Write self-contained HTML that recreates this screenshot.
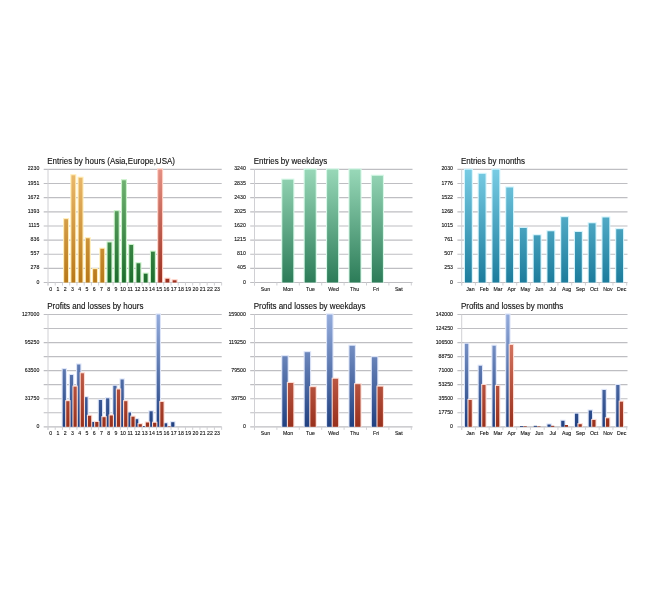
<!DOCTYPE html>
<html><head><meta charset="utf-8"><title>Charts</title>
<style>html,body{margin:0;padding:0;background:#fff;}svg{display:block;}</style></head>
<body>
<svg width="672" height="600" viewBox="0 0 672 600" font-family="Liberation Sans, sans-serif">
<defs>
<linearGradient id="gO" gradientUnits="userSpaceOnUse" x1="0" y1="169.4" x2="0" y2="282.5"><stop offset="0" stop-color="#ecbc70"/><stop offset="1" stop-color="#b87818"/></linearGradient>
<linearGradient id="gG" gradientUnits="userSpaceOnUse" x1="0" y1="169.4" x2="0" y2="282.5"><stop offset="0" stop-color="#78b878"/><stop offset="1" stop-color="#1c6c2c"/></linearGradient>
<linearGradient id="gR" gradientUnits="userSpaceOnUse" x1="0" y1="169.4" x2="0" y2="282.5"><stop offset="0" stop-color="#e49084"/><stop offset="1" stop-color="#9c3020"/></linearGradient>
<linearGradient id="gT" gradientUnits="userSpaceOnUse" x1="0" y1="169.4" x2="0" y2="282.5"><stop offset="0" stop-color="#98d8b8"/><stop offset="1" stop-color="#2c7c58"/></linearGradient>
<linearGradient id="gC" gradientUnits="userSpaceOnUse" x1="0" y1="169.4" x2="0" y2="282.5"><stop offset="0" stop-color="#78cce4"/><stop offset="1" stop-color="#1c7c9c"/></linearGradient>
<linearGradient id="gB" gradientUnits="userSpaceOnUse" x1="0" y1="314.5" x2="0" y2="426.8"><stop offset="0" stop-color="#94acdc"/><stop offset="1" stop-color="#204080"/></linearGradient>
<linearGradient id="gD" gradientUnits="userSpaceOnUse" x1="0" y1="314.5" x2="0" y2="426.8"><stop offset="0" stop-color="#e88c78"/><stop offset="1" stop-color="#98301c"/></linearGradient>
</defs>
<rect width="672" height="600" fill="#fff"/>
<g>
<text transform="translate(47.20,164.00) rotate(0.02) scale(0.955,1)" font-size="8.4" text-anchor="start" fill="#101010" stroke="#101010" stroke-width="0.12">Entries by hours (Asia,Europe,USA)</text>
<line x1="43.70" y1="169.40" x2="221.70" y2="169.40" stroke="#bebec2" stroke-width="1.15"/>
<line x1="43.70" y1="183.54" x2="221.70" y2="183.54" stroke="#bebec2" stroke-width="1.15"/>
<line x1="43.70" y1="197.68" x2="221.70" y2="197.68" stroke="#bebec2" stroke-width="1.15"/>
<line x1="43.70" y1="211.81" x2="221.70" y2="211.81" stroke="#bebec2" stroke-width="1.15"/>
<line x1="43.70" y1="225.95" x2="221.70" y2="225.95" stroke="#bebec2" stroke-width="1.15"/>
<line x1="43.70" y1="240.09" x2="221.70" y2="240.09" stroke="#bebec2" stroke-width="1.15"/>
<line x1="43.70" y1="254.22" x2="221.70" y2="254.22" stroke="#bebec2" stroke-width="1.15"/>
<line x1="43.70" y1="268.36" x2="221.70" y2="268.36" stroke="#bebec2" stroke-width="1.15"/>
<line x1="43.70" y1="282.50" x2="221.70" y2="282.50" stroke="#bebec2" stroke-width="1.15"/>
<line x1="48.00" y1="169.40" x2="48.00" y2="285.50" stroke="#d0d0d4" stroke-width="1"/>
<text transform="translate(39.30,170.45) rotate(0.02) scale(0.84,1)" font-size="6.2" text-anchor="end" fill="#101010" stroke="#101010" stroke-width="0.12">2230</text>
<text transform="translate(39.30,184.59) rotate(0.02) scale(0.84,1)" font-size="6.2" text-anchor="end" fill="#101010" stroke="#101010" stroke-width="0.12">1951</text>
<text transform="translate(39.30,198.73) rotate(0.02) scale(0.84,1)" font-size="6.2" text-anchor="end" fill="#101010" stroke="#101010" stroke-width="0.12">1672</text>
<text transform="translate(39.30,212.86) rotate(0.02) scale(0.84,1)" font-size="6.2" text-anchor="end" fill="#101010" stroke="#101010" stroke-width="0.12">1393</text>
<text transform="translate(39.30,227.00) rotate(0.02) scale(0.84,1)" font-size="6.2" text-anchor="end" fill="#101010" stroke="#101010" stroke-width="0.12">1115</text>
<text transform="translate(39.30,241.14) rotate(0.02) scale(0.84,1)" font-size="6.2" text-anchor="end" fill="#101010" stroke="#101010" stroke-width="0.12">836</text>
<text transform="translate(39.30,255.28) rotate(0.02) scale(0.84,1)" font-size="6.2" text-anchor="end" fill="#101010" stroke="#101010" stroke-width="0.12">557</text>
<text transform="translate(39.30,269.41) rotate(0.02) scale(0.84,1)" font-size="6.2" text-anchor="end" fill="#101010" stroke="#101010" stroke-width="0.12">278</text>
<text transform="translate(39.30,283.55) rotate(0.02) scale(0.84,1)" font-size="6.2" text-anchor="end" fill="#101010" stroke="#101010" stroke-width="0.12">0</text>
<rect x="63.09" y="218.10" width="6.00" height="64.40" fill="#ffecb4"/>
<rect x="64.19" y="219.20" width="3.80" height="63.30" fill="url(#gO)"/>
<rect x="70.32" y="174.20" width="6.00" height="108.30" fill="#ffecb4"/>
<rect x="71.42" y="175.30" width="3.80" height="107.20" fill="url(#gO)"/>
<rect x="77.56" y="176.70" width="6.00" height="105.80" fill="#ffecb4"/>
<rect x="78.66" y="177.80" width="3.80" height="104.70" fill="url(#gO)"/>
<rect x="84.79" y="237.20" width="6.00" height="45.30" fill="#ffecb4"/>
<rect x="85.89" y="238.30" width="3.80" height="44.20" fill="url(#gO)"/>
<rect x="92.03" y="268.10" width="6.00" height="14.40" fill="#ffecb4"/>
<rect x="93.13" y="269.20" width="3.80" height="13.30" fill="url(#gO)"/>
<rect x="99.26" y="247.70" width="6.00" height="34.80" fill="#ffecb4"/>
<rect x="100.36" y="248.80" width="3.80" height="33.70" fill="url(#gO)"/>
<rect x="106.50" y="241.40" width="6.00" height="41.10" fill="#c8f0c8"/>
<rect x="107.60" y="242.50" width="3.80" height="40.00" fill="url(#gG)"/>
<rect x="113.73" y="210.10" width="6.00" height="72.40" fill="#c8f0c8"/>
<rect x="114.83" y="211.20" width="3.80" height="71.30" fill="url(#gG)"/>
<rect x="120.97" y="179.20" width="6.00" height="103.30" fill="#c8f0c8"/>
<rect x="122.07" y="180.30" width="3.80" height="102.20" fill="url(#gG)"/>
<rect x="128.20" y="243.90" width="6.00" height="38.60" fill="#c8f0c8"/>
<rect x="129.30" y="245.00" width="3.80" height="37.50" fill="url(#gG)"/>
<rect x="135.44" y="262.20" width="6.00" height="20.30" fill="#c8f0c8"/>
<rect x="136.54" y="263.30" width="3.80" height="19.20" fill="url(#gG)"/>
<rect x="142.67" y="272.60" width="6.00" height="9.90" fill="#c8f0c8"/>
<rect x="143.77" y="273.70" width="3.80" height="8.80" fill="url(#gG)"/>
<rect x="149.91" y="250.60" width="6.00" height="31.90" fill="#c8f0c8"/>
<rect x="151.01" y="251.70" width="3.80" height="30.80" fill="url(#gG)"/>
<rect x="157.14" y="168.30" width="6.00" height="114.20" fill="#ffd0c4"/>
<rect x="158.24" y="169.40" width="3.80" height="113.10" fill="url(#gR)"/>
<rect x="164.38" y="277.70" width="6.00" height="4.80" fill="#ffd0c4"/>
<rect x="165.48" y="278.80" width="3.80" height="3.70" fill="url(#gR)"/>
<rect x="171.61" y="279.20" width="6.00" height="3.30" fill="#ffd0c4"/>
<rect x="172.71" y="280.30" width="3.80" height="2.20" fill="url(#gR)"/>
<line x1="48.00" y1="282.50" x2="48.00" y2="285.50" stroke="#d0d0d4" stroke-width="1"/>
<line x1="55.23" y1="282.50" x2="55.23" y2="285.50" stroke="#d0d0d4" stroke-width="1"/>
<line x1="62.47" y1="282.50" x2="62.47" y2="285.50" stroke="#d0d0d4" stroke-width="1"/>
<line x1="69.70" y1="282.50" x2="69.70" y2="285.50" stroke="#d0d0d4" stroke-width="1"/>
<line x1="76.94" y1="282.50" x2="76.94" y2="285.50" stroke="#d0d0d4" stroke-width="1"/>
<line x1="84.18" y1="282.50" x2="84.18" y2="285.50" stroke="#d0d0d4" stroke-width="1"/>
<line x1="91.41" y1="282.50" x2="91.41" y2="285.50" stroke="#d0d0d4" stroke-width="1"/>
<line x1="98.65" y1="282.50" x2="98.65" y2="285.50" stroke="#d0d0d4" stroke-width="1"/>
<line x1="105.88" y1="282.50" x2="105.88" y2="285.50" stroke="#d0d0d4" stroke-width="1"/>
<line x1="113.12" y1="282.50" x2="113.12" y2="285.50" stroke="#d0d0d4" stroke-width="1"/>
<line x1="120.35" y1="282.50" x2="120.35" y2="285.50" stroke="#d0d0d4" stroke-width="1"/>
<line x1="127.59" y1="282.50" x2="127.59" y2="285.50" stroke="#d0d0d4" stroke-width="1"/>
<line x1="134.82" y1="282.50" x2="134.82" y2="285.50" stroke="#d0d0d4" stroke-width="1"/>
<line x1="142.06" y1="282.50" x2="142.06" y2="285.50" stroke="#d0d0d4" stroke-width="1"/>
<line x1="149.29" y1="282.50" x2="149.29" y2="285.50" stroke="#d0d0d4" stroke-width="1"/>
<line x1="156.53" y1="282.50" x2="156.53" y2="285.50" stroke="#d0d0d4" stroke-width="1"/>
<line x1="163.76" y1="282.50" x2="163.76" y2="285.50" stroke="#d0d0d4" stroke-width="1"/>
<line x1="171.00" y1="282.50" x2="171.00" y2="285.50" stroke="#d0d0d4" stroke-width="1"/>
<line x1="178.23" y1="282.50" x2="178.23" y2="285.50" stroke="#d0d0d4" stroke-width="1"/>
<line x1="185.47" y1="282.50" x2="185.47" y2="285.50" stroke="#d0d0d4" stroke-width="1"/>
<line x1="192.70" y1="282.50" x2="192.70" y2="285.50" stroke="#d0d0d4" stroke-width="1"/>
<line x1="199.94" y1="282.50" x2="199.94" y2="285.50" stroke="#d0d0d4" stroke-width="1"/>
<line x1="207.17" y1="282.50" x2="207.17" y2="285.50" stroke="#d0d0d4" stroke-width="1"/>
<line x1="214.41" y1="282.50" x2="214.41" y2="285.50" stroke="#d0d0d4" stroke-width="1"/>
<line x1="221.64" y1="282.50" x2="221.64" y2="285.50" stroke="#d0d0d4" stroke-width="1"/>
<text transform="translate(50.72,290.80) rotate(0.02) scale(0.84,1)" font-size="6.2" text-anchor="middle" fill="#101010" stroke="#101010" stroke-width="0.12">0</text>
<text transform="translate(57.95,290.80) rotate(0.02) scale(0.84,1)" font-size="6.2" text-anchor="middle" fill="#101010" stroke="#101010" stroke-width="0.12">1</text>
<text transform="translate(65.19,290.80) rotate(0.02) scale(0.84,1)" font-size="6.2" text-anchor="middle" fill="#101010" stroke="#101010" stroke-width="0.12">2</text>
<text transform="translate(72.42,290.80) rotate(0.02) scale(0.84,1)" font-size="6.2" text-anchor="middle" fill="#101010" stroke="#101010" stroke-width="0.12">3</text>
<text transform="translate(79.66,290.80) rotate(0.02) scale(0.84,1)" font-size="6.2" text-anchor="middle" fill="#101010" stroke="#101010" stroke-width="0.12">4</text>
<text transform="translate(86.89,290.80) rotate(0.02) scale(0.84,1)" font-size="6.2" text-anchor="middle" fill="#101010" stroke="#101010" stroke-width="0.12">5</text>
<text transform="translate(94.13,290.80) rotate(0.02) scale(0.84,1)" font-size="6.2" text-anchor="middle" fill="#101010" stroke="#101010" stroke-width="0.12">6</text>
<text transform="translate(101.36,290.80) rotate(0.02) scale(0.84,1)" font-size="6.2" text-anchor="middle" fill="#101010" stroke="#101010" stroke-width="0.12">7</text>
<text transform="translate(108.60,290.80) rotate(0.02) scale(0.84,1)" font-size="6.2" text-anchor="middle" fill="#101010" stroke="#101010" stroke-width="0.12">8</text>
<text transform="translate(115.83,290.80) rotate(0.02) scale(0.84,1)" font-size="6.2" text-anchor="middle" fill="#101010" stroke="#101010" stroke-width="0.12">9</text>
<text transform="translate(123.07,290.80) rotate(0.02) scale(0.84,1)" font-size="6.2" text-anchor="middle" fill="#101010" stroke="#101010" stroke-width="0.12">10</text>
<text transform="translate(130.30,290.80) rotate(0.02) scale(0.84,1)" font-size="6.2" text-anchor="middle" fill="#101010" stroke="#101010" stroke-width="0.12">11</text>
<text transform="translate(137.54,290.80) rotate(0.02) scale(0.84,1)" font-size="6.2" text-anchor="middle" fill="#101010" stroke="#101010" stroke-width="0.12">12</text>
<text transform="translate(144.77,290.80) rotate(0.02) scale(0.84,1)" font-size="6.2" text-anchor="middle" fill="#101010" stroke="#101010" stroke-width="0.12">13</text>
<text transform="translate(152.01,290.80) rotate(0.02) scale(0.84,1)" font-size="6.2" text-anchor="middle" fill="#101010" stroke="#101010" stroke-width="0.12">14</text>
<text transform="translate(159.24,290.80) rotate(0.02) scale(0.84,1)" font-size="6.2" text-anchor="middle" fill="#101010" stroke="#101010" stroke-width="0.12">15</text>
<text transform="translate(166.48,290.80) rotate(0.02) scale(0.84,1)" font-size="6.2" text-anchor="middle" fill="#101010" stroke="#101010" stroke-width="0.12">16</text>
<text transform="translate(173.71,290.80) rotate(0.02) scale(0.84,1)" font-size="6.2" text-anchor="middle" fill="#101010" stroke="#101010" stroke-width="0.12">17</text>
<text transform="translate(180.95,290.80) rotate(0.02) scale(0.84,1)" font-size="6.2" text-anchor="middle" fill="#101010" stroke="#101010" stroke-width="0.12">18</text>
<text transform="translate(188.18,290.80) rotate(0.02) scale(0.84,1)" font-size="6.2" text-anchor="middle" fill="#101010" stroke="#101010" stroke-width="0.12">19</text>
<text transform="translate(195.42,290.80) rotate(0.02) scale(0.84,1)" font-size="6.2" text-anchor="middle" fill="#101010" stroke="#101010" stroke-width="0.12">20</text>
<text transform="translate(202.65,290.80) rotate(0.02) scale(0.84,1)" font-size="6.2" text-anchor="middle" fill="#101010" stroke="#101010" stroke-width="0.12">21</text>
<text transform="translate(209.89,290.80) rotate(0.02) scale(0.84,1)" font-size="6.2" text-anchor="middle" fill="#101010" stroke="#101010" stroke-width="0.12">22</text>
<text transform="translate(217.12,290.80) rotate(0.02) scale(0.84,1)" font-size="6.2" text-anchor="middle" fill="#101010" stroke="#101010" stroke-width="0.12">23</text>
<text transform="translate(253.70,164.00) rotate(0.02) scale(0.955,1)" font-size="8.4" text-anchor="start" fill="#101010" stroke="#101010" stroke-width="0.12">Entries by weekdays</text>
<line x1="250.20" y1="169.40" x2="412.50" y2="169.40" stroke="#bebec2" stroke-width="1.15"/>
<line x1="250.20" y1="183.54" x2="412.50" y2="183.54" stroke="#bebec2" stroke-width="1.15"/>
<line x1="250.20" y1="197.68" x2="412.50" y2="197.68" stroke="#bebec2" stroke-width="1.15"/>
<line x1="250.20" y1="211.81" x2="412.50" y2="211.81" stroke="#bebec2" stroke-width="1.15"/>
<line x1="250.20" y1="225.95" x2="412.50" y2="225.95" stroke="#bebec2" stroke-width="1.15"/>
<line x1="250.20" y1="240.09" x2="412.50" y2="240.09" stroke="#bebec2" stroke-width="1.15"/>
<line x1="250.20" y1="254.22" x2="412.50" y2="254.22" stroke="#bebec2" stroke-width="1.15"/>
<line x1="250.20" y1="268.36" x2="412.50" y2="268.36" stroke="#bebec2" stroke-width="1.15"/>
<line x1="250.20" y1="282.50" x2="412.50" y2="282.50" stroke="#bebec2" stroke-width="1.15"/>
<line x1="254.50" y1="169.40" x2="254.50" y2="285.50" stroke="#d0d0d4" stroke-width="1"/>
<text transform="translate(245.80,170.45) rotate(0.02) scale(0.84,1)" font-size="6.2" text-anchor="end" fill="#101010" stroke="#101010" stroke-width="0.12">3240</text>
<text transform="translate(245.80,184.59) rotate(0.02) scale(0.84,1)" font-size="6.2" text-anchor="end" fill="#101010" stroke="#101010" stroke-width="0.12">2835</text>
<text transform="translate(245.80,198.73) rotate(0.02) scale(0.84,1)" font-size="6.2" text-anchor="end" fill="#101010" stroke="#101010" stroke-width="0.12">2430</text>
<text transform="translate(245.80,212.86) rotate(0.02) scale(0.84,1)" font-size="6.2" text-anchor="end" fill="#101010" stroke="#101010" stroke-width="0.12">2025</text>
<text transform="translate(245.80,227.00) rotate(0.02) scale(0.84,1)" font-size="6.2" text-anchor="end" fill="#101010" stroke="#101010" stroke-width="0.12">1620</text>
<text transform="translate(245.80,241.14) rotate(0.02) scale(0.84,1)" font-size="6.2" text-anchor="end" fill="#101010" stroke="#101010" stroke-width="0.12">1215</text>
<text transform="translate(245.80,255.28) rotate(0.02) scale(0.84,1)" font-size="6.2" text-anchor="end" fill="#101010" stroke="#101010" stroke-width="0.12">810</text>
<text transform="translate(245.80,269.41) rotate(0.02) scale(0.84,1)" font-size="6.2" text-anchor="end" fill="#101010" stroke="#101010" stroke-width="0.12">405</text>
<text transform="translate(245.80,283.55) rotate(0.02) scale(0.84,1)" font-size="6.2" text-anchor="end" fill="#101010" stroke="#101010" stroke-width="0.12">0</text>
<rect x="281.20" y="178.60" width="13.20" height="103.90" fill="#d8f8e8"/>
<rect x="282.30" y="179.70" width="11.00" height="102.80" fill="url(#gT)"/>
<rect x="303.60" y="168.30" width="13.20" height="114.20" fill="#d8f8e8"/>
<rect x="304.70" y="169.40" width="11.00" height="113.10" fill="url(#gT)"/>
<rect x="326.00" y="168.30" width="13.20" height="114.20" fill="#d8f8e8"/>
<rect x="327.10" y="169.40" width="11.00" height="113.10" fill="url(#gT)"/>
<rect x="348.40" y="168.30" width="13.20" height="114.20" fill="#d8f8e8"/>
<rect x="349.50" y="169.40" width="11.00" height="113.10" fill="url(#gT)"/>
<rect x="370.80" y="174.70" width="13.20" height="107.80" fill="#d8f8e8"/>
<rect x="371.90" y="175.80" width="11.00" height="106.70" fill="url(#gT)"/>
<line x1="254.50" y1="282.50" x2="254.50" y2="285.50" stroke="#d0d0d4" stroke-width="1"/>
<line x1="276.90" y1="282.50" x2="276.90" y2="285.50" stroke="#d0d0d4" stroke-width="1"/>
<line x1="299.30" y1="282.50" x2="299.30" y2="285.50" stroke="#d0d0d4" stroke-width="1"/>
<line x1="321.70" y1="282.50" x2="321.70" y2="285.50" stroke="#d0d0d4" stroke-width="1"/>
<line x1="344.10" y1="282.50" x2="344.10" y2="285.50" stroke="#d0d0d4" stroke-width="1"/>
<line x1="366.50" y1="282.50" x2="366.50" y2="285.50" stroke="#d0d0d4" stroke-width="1"/>
<line x1="388.90" y1="282.50" x2="388.90" y2="285.50" stroke="#d0d0d4" stroke-width="1"/>
<line x1="411.30" y1="282.50" x2="411.30" y2="285.50" stroke="#d0d0d4" stroke-width="1"/>
<text transform="translate(265.40,290.80) rotate(0.02) scale(0.84,1)" font-size="6.2" text-anchor="middle" fill="#101010" stroke="#101010" stroke-width="0.12">Sun</text>
<text transform="translate(288.00,290.80) rotate(0.02) scale(0.84,1)" font-size="6.2" text-anchor="middle" fill="#101010" stroke="#101010" stroke-width="0.12">Mon</text>
<text transform="translate(310.40,290.80) rotate(0.02) scale(0.84,1)" font-size="6.2" text-anchor="middle" fill="#101010" stroke="#101010" stroke-width="0.12">Tue</text>
<text transform="translate(333.50,290.80) rotate(0.02) scale(0.84,1)" font-size="6.2" text-anchor="middle" fill="#101010" stroke="#101010" stroke-width="0.12">Wed</text>
<text transform="translate(354.60,290.80) rotate(0.02) scale(0.84,1)" font-size="6.2" text-anchor="middle" fill="#101010" stroke="#101010" stroke-width="0.12">Thu</text>
<text transform="translate(376.10,290.80) rotate(0.02) scale(0.84,1)" font-size="6.2" text-anchor="middle" fill="#101010" stroke="#101010" stroke-width="0.12">Fri</text>
<text transform="translate(398.80,290.80) rotate(0.02) scale(0.84,1)" font-size="6.2" text-anchor="middle" fill="#101010" stroke="#101010" stroke-width="0.12">Sat</text>
<text transform="translate(460.90,164.00) rotate(0.02) scale(0.955,1)" font-size="8.4" text-anchor="start" fill="#101010" stroke="#101010" stroke-width="0.12">Entries by months</text>
<line x1="457.40" y1="169.40" x2="627.50" y2="169.40" stroke="#bebec2" stroke-width="1.15"/>
<line x1="457.40" y1="183.54" x2="627.50" y2="183.54" stroke="#bebec2" stroke-width="1.15"/>
<line x1="457.40" y1="197.68" x2="627.50" y2="197.68" stroke="#bebec2" stroke-width="1.15"/>
<line x1="457.40" y1="211.81" x2="627.50" y2="211.81" stroke="#bebec2" stroke-width="1.15"/>
<line x1="457.40" y1="225.95" x2="627.50" y2="225.95" stroke="#bebec2" stroke-width="1.15"/>
<line x1="457.40" y1="240.09" x2="627.50" y2="240.09" stroke="#bebec2" stroke-width="1.15"/>
<line x1="457.40" y1="254.22" x2="627.50" y2="254.22" stroke="#bebec2" stroke-width="1.15"/>
<line x1="457.40" y1="268.36" x2="627.50" y2="268.36" stroke="#bebec2" stroke-width="1.15"/>
<line x1="457.40" y1="282.50" x2="627.50" y2="282.50" stroke="#bebec2" stroke-width="1.15"/>
<line x1="461.70" y1="169.40" x2="461.70" y2="285.50" stroke="#d0d0d4" stroke-width="1"/>
<text transform="translate(453.00,170.45) rotate(0.02) scale(0.84,1)" font-size="6.2" text-anchor="end" fill="#101010" stroke="#101010" stroke-width="0.12">2030</text>
<text transform="translate(453.00,184.59) rotate(0.02) scale(0.84,1)" font-size="6.2" text-anchor="end" fill="#101010" stroke="#101010" stroke-width="0.12">1776</text>
<text transform="translate(453.00,198.73) rotate(0.02) scale(0.84,1)" font-size="6.2" text-anchor="end" fill="#101010" stroke="#101010" stroke-width="0.12">1522</text>
<text transform="translate(453.00,212.86) rotate(0.02) scale(0.84,1)" font-size="6.2" text-anchor="end" fill="#101010" stroke="#101010" stroke-width="0.12">1268</text>
<text transform="translate(453.00,227.00) rotate(0.02) scale(0.84,1)" font-size="6.2" text-anchor="end" fill="#101010" stroke="#101010" stroke-width="0.12">1015</text>
<text transform="translate(453.00,241.14) rotate(0.02) scale(0.84,1)" font-size="6.2" text-anchor="end" fill="#101010" stroke="#101010" stroke-width="0.12">761</text>
<text transform="translate(453.00,255.28) rotate(0.02) scale(0.84,1)" font-size="6.2" text-anchor="end" fill="#101010" stroke="#101010" stroke-width="0.12">507</text>
<text transform="translate(453.00,269.41) rotate(0.02) scale(0.84,1)" font-size="6.2" text-anchor="end" fill="#101010" stroke="#101010" stroke-width="0.12">253</text>
<text transform="translate(453.00,283.55) rotate(0.02) scale(0.84,1)" font-size="6.2" text-anchor="end" fill="#101010" stroke="#101010" stroke-width="0.12">0</text>
<rect x="463.88" y="168.50" width="9.00" height="114.00" fill="#d4f4fc"/>
<rect x="464.98" y="169.60" width="6.80" height="112.90" fill="url(#gC)"/>
<rect x="477.62" y="172.80" width="9.00" height="109.70" fill="#d4f4fc"/>
<rect x="478.73" y="173.90" width="6.80" height="108.60" fill="url(#gC)"/>
<rect x="491.38" y="168.50" width="9.00" height="114.00" fill="#d4f4fc"/>
<rect x="492.48" y="169.60" width="6.80" height="112.90" fill="url(#gC)"/>
<rect x="505.12" y="186.40" width="9.00" height="96.10" fill="#d4f4fc"/>
<rect x="506.23" y="187.50" width="6.80" height="95.00" fill="url(#gC)"/>
<rect x="518.88" y="226.90" width="9.00" height="55.60" fill="#d4f4fc"/>
<rect x="519.98" y="228.00" width="6.80" height="54.50" fill="url(#gC)"/>
<rect x="532.62" y="234.20" width="9.00" height="48.30" fill="#d4f4fc"/>
<rect x="533.73" y="235.30" width="6.80" height="47.20" fill="url(#gC)"/>
<rect x="546.38" y="230.20" width="9.00" height="52.30" fill="#d4f4fc"/>
<rect x="547.48" y="231.30" width="6.80" height="51.20" fill="url(#gC)"/>
<rect x="560.12" y="216.10" width="9.00" height="66.40" fill="#d4f4fc"/>
<rect x="561.23" y="217.20" width="6.80" height="65.30" fill="url(#gC)"/>
<rect x="573.88" y="230.90" width="9.00" height="51.60" fill="#d4f4fc"/>
<rect x="574.98" y="232.00" width="6.80" height="50.50" fill="url(#gC)"/>
<rect x="587.62" y="222.20" width="9.00" height="60.30" fill="#d4f4fc"/>
<rect x="588.73" y="223.30" width="6.80" height="59.20" fill="url(#gC)"/>
<rect x="601.38" y="216.40" width="9.00" height="66.10" fill="#d4f4fc"/>
<rect x="602.48" y="217.50" width="6.80" height="65.00" fill="url(#gC)"/>
<rect x="615.12" y="228.10" width="9.00" height="54.40" fill="#d4f4fc"/>
<rect x="616.23" y="229.20" width="6.80" height="53.30" fill="url(#gC)"/>
<line x1="461.70" y1="282.50" x2="461.70" y2="285.50" stroke="#d0d0d4" stroke-width="1"/>
<line x1="475.45" y1="282.50" x2="475.45" y2="285.50" stroke="#d0d0d4" stroke-width="1"/>
<line x1="489.20" y1="282.50" x2="489.20" y2="285.50" stroke="#d0d0d4" stroke-width="1"/>
<line x1="502.95" y1="282.50" x2="502.95" y2="285.50" stroke="#d0d0d4" stroke-width="1"/>
<line x1="516.70" y1="282.50" x2="516.70" y2="285.50" stroke="#d0d0d4" stroke-width="1"/>
<line x1="530.45" y1="282.50" x2="530.45" y2="285.50" stroke="#d0d0d4" stroke-width="1"/>
<line x1="544.20" y1="282.50" x2="544.20" y2="285.50" stroke="#d0d0d4" stroke-width="1"/>
<line x1="557.95" y1="282.50" x2="557.95" y2="285.50" stroke="#d0d0d4" stroke-width="1"/>
<line x1="571.70" y1="282.50" x2="571.70" y2="285.50" stroke="#d0d0d4" stroke-width="1"/>
<line x1="585.45" y1="282.50" x2="585.45" y2="285.50" stroke="#d0d0d4" stroke-width="1"/>
<line x1="599.20" y1="282.50" x2="599.20" y2="285.50" stroke="#d0d0d4" stroke-width="1"/>
<line x1="612.95" y1="282.50" x2="612.95" y2="285.50" stroke="#d0d0d4" stroke-width="1"/>
<line x1="626.70" y1="282.50" x2="626.70" y2="285.50" stroke="#d0d0d4" stroke-width="1"/>
<text transform="translate(470.38,290.80) rotate(0.02) scale(0.84,1)" font-size="6.2" text-anchor="middle" fill="#101010" stroke="#101010" stroke-width="0.12">Jan</text>
<text transform="translate(484.12,290.80) rotate(0.02) scale(0.84,1)" font-size="6.2" text-anchor="middle" fill="#101010" stroke="#101010" stroke-width="0.12">Feb</text>
<text transform="translate(497.88,290.80) rotate(0.02) scale(0.84,1)" font-size="6.2" text-anchor="middle" fill="#101010" stroke="#101010" stroke-width="0.12">Mar</text>
<text transform="translate(511.62,290.80) rotate(0.02) scale(0.84,1)" font-size="6.2" text-anchor="middle" fill="#101010" stroke="#101010" stroke-width="0.12">Apr</text>
<text transform="translate(525.38,290.80) rotate(0.02) scale(0.84,1)" font-size="6.2" text-anchor="middle" fill="#101010" stroke="#101010" stroke-width="0.12">May</text>
<text transform="translate(539.12,290.80) rotate(0.02) scale(0.84,1)" font-size="6.2" text-anchor="middle" fill="#101010" stroke="#101010" stroke-width="0.12">Jun</text>
<text transform="translate(552.88,290.80) rotate(0.02) scale(0.84,1)" font-size="6.2" text-anchor="middle" fill="#101010" stroke="#101010" stroke-width="0.12">Jul</text>
<text transform="translate(566.62,290.80) rotate(0.02) scale(0.84,1)" font-size="6.2" text-anchor="middle" fill="#101010" stroke="#101010" stroke-width="0.12">Aug</text>
<text transform="translate(580.38,290.80) rotate(0.02) scale(0.84,1)" font-size="6.2" text-anchor="middle" fill="#101010" stroke="#101010" stroke-width="0.12">Sep</text>
<text transform="translate(594.12,290.80) rotate(0.02) scale(0.84,1)" font-size="6.2" text-anchor="middle" fill="#101010" stroke="#101010" stroke-width="0.12">Oct</text>
<text transform="translate(607.88,290.80) rotate(0.02) scale(0.84,1)" font-size="6.2" text-anchor="middle" fill="#101010" stroke="#101010" stroke-width="0.12">Nov</text>
<text transform="translate(621.62,290.80) rotate(0.02) scale(0.84,1)" font-size="6.2" text-anchor="middle" fill="#101010" stroke="#101010" stroke-width="0.12">Dec</text>
<text transform="translate(47.20,309.10) rotate(0.02) scale(0.955,1)" font-size="8.4" text-anchor="start" fill="#101010" stroke="#101010" stroke-width="0.12">Profits and losses by hours</text>
<line x1="43.70" y1="314.50" x2="221.70" y2="314.50" stroke="#bebec2" stroke-width="1.15"/>
<line x1="43.70" y1="328.54" x2="221.70" y2="328.54" stroke="#bebec2" stroke-width="1.15"/>
<line x1="43.70" y1="342.57" x2="221.70" y2="342.57" stroke="#bebec2" stroke-width="1.15"/>
<line x1="43.70" y1="356.61" x2="221.70" y2="356.61" stroke="#bebec2" stroke-width="1.15"/>
<line x1="43.70" y1="370.65" x2="221.70" y2="370.65" stroke="#bebec2" stroke-width="1.15"/>
<line x1="43.70" y1="384.69" x2="221.70" y2="384.69" stroke="#bebec2" stroke-width="1.15"/>
<line x1="43.70" y1="398.73" x2="221.70" y2="398.73" stroke="#bebec2" stroke-width="1.15"/>
<line x1="43.70" y1="412.76" x2="221.70" y2="412.76" stroke="#bebec2" stroke-width="1.15"/>
<line x1="43.70" y1="426.80" x2="221.70" y2="426.80" stroke="#bebec2" stroke-width="1.15"/>
<line x1="48.00" y1="314.50" x2="48.00" y2="429.80" stroke="#d0d0d4" stroke-width="1"/>
<text transform="translate(39.30,315.55) rotate(0.02) scale(0.84,1)" font-size="6.2" text-anchor="end" fill="#101010" stroke="#101010" stroke-width="0.12">127000</text>
<text transform="translate(39.30,343.62) rotate(0.02) scale(0.84,1)" font-size="6.2" text-anchor="end" fill="#101010" stroke="#101010" stroke-width="0.12">95250</text>
<text transform="translate(39.30,371.70) rotate(0.02) scale(0.84,1)" font-size="6.2" text-anchor="end" fill="#101010" stroke="#101010" stroke-width="0.12">63500</text>
<text transform="translate(39.30,399.78) rotate(0.02) scale(0.84,1)" font-size="6.2" text-anchor="end" fill="#101010" stroke="#101010" stroke-width="0.12">31750</text>
<text transform="translate(39.30,427.85) rotate(0.02) scale(0.84,1)" font-size="6.2" text-anchor="end" fill="#101010" stroke="#101010" stroke-width="0.12">0</text>
<rect x="61.57" y="368.10" width="5.40" height="58.70" fill="#dce4f8"/>
<rect x="62.67" y="369.20" width="3.20" height="57.60" fill="url(#gB)"/>
<rect x="68.81" y="373.90" width="5.40" height="52.90" fill="#dce4f8"/>
<rect x="69.91" y="375.00" width="3.20" height="51.80" fill="url(#gB)"/>
<rect x="76.04" y="363.40" width="5.40" height="63.40" fill="#dce4f8"/>
<rect x="77.14" y="364.50" width="3.20" height="62.30" fill="url(#gB)"/>
<rect x="83.28" y="396.10" width="5.40" height="30.70" fill="#dce4f8"/>
<rect x="84.38" y="397.20" width="3.20" height="29.60" fill="url(#gB)"/>
<rect x="90.51" y="420.90" width="5.40" height="5.90" fill="#dce4f8"/>
<rect x="91.61" y="422.00" width="3.20" height="4.80" fill="url(#gB)"/>
<rect x="97.75" y="398.90" width="5.40" height="27.90" fill="#dce4f8"/>
<rect x="98.85" y="400.00" width="3.20" height="26.80" fill="url(#gB)"/>
<rect x="104.98" y="397.20" width="5.40" height="29.60" fill="#dce4f8"/>
<rect x="106.08" y="398.30" width="3.20" height="28.50" fill="url(#gB)"/>
<rect x="112.22" y="384.70" width="5.40" height="42.10" fill="#dce4f8"/>
<rect x="113.32" y="385.80" width="3.20" height="41.00" fill="url(#gB)"/>
<rect x="119.45" y="378.40" width="5.40" height="48.40" fill="#dce4f8"/>
<rect x="120.55" y="379.50" width="3.20" height="47.30" fill="url(#gB)"/>
<rect x="126.69" y="411.40" width="5.40" height="15.40" fill="#dce4f8"/>
<rect x="127.79" y="412.50" width="3.20" height="14.30" fill="url(#gB)"/>
<rect x="133.92" y="418.10" width="5.40" height="8.70" fill="#dce4f8"/>
<rect x="135.02" y="419.20" width="3.20" height="7.60" fill="url(#gB)"/>
<rect x="142.25" y="426.00" width="3.20" height="0.80" fill="url(#gB)"/>
<rect x="148.39" y="410.20" width="5.40" height="16.60" fill="#dce4f8"/>
<rect x="149.49" y="411.30" width="3.20" height="15.50" fill="url(#gB)"/>
<rect x="155.62" y="313.40" width="5.40" height="113.40" fill="#dce4f8"/>
<rect x="156.72" y="314.50" width="3.20" height="112.30" fill="url(#gB)"/>
<rect x="162.86" y="422.20" width="5.40" height="4.60" fill="#dce4f8"/>
<rect x="163.96" y="423.30" width="3.20" height="3.50" fill="url(#gB)"/>
<rect x="170.09" y="421.10" width="5.40" height="5.70" fill="#dce4f8"/>
<rect x="171.19" y="422.20" width="3.20" height="4.60" fill="url(#gB)"/>
<rect x="65.17" y="400.10" width="5.40" height="26.70" fill="#fcdcd4"/>
<rect x="66.27" y="401.20" width="3.20" height="25.60" fill="url(#gD)"/>
<rect x="72.41" y="385.60" width="5.40" height="41.20" fill="#fcdcd4"/>
<rect x="73.50" y="386.70" width="3.20" height="40.10" fill="url(#gD)"/>
<rect x="79.64" y="372.20" width="5.40" height="54.60" fill="#fcdcd4"/>
<rect x="80.74" y="373.30" width="3.20" height="53.50" fill="url(#gD)"/>
<rect x="86.88" y="414.70" width="5.40" height="12.10" fill="#fcdcd4"/>
<rect x="87.98" y="415.80" width="3.20" height="11.00" fill="url(#gD)"/>
<rect x="94.11" y="420.90" width="5.40" height="5.90" fill="#fcdcd4"/>
<rect x="95.21" y="422.00" width="3.20" height="4.80" fill="url(#gD)"/>
<rect x="101.35" y="416.10" width="5.40" height="10.70" fill="#fcdcd4"/>
<rect x="102.45" y="417.20" width="3.20" height="9.60" fill="url(#gD)"/>
<rect x="108.58" y="414.40" width="5.40" height="12.40" fill="#fcdcd4"/>
<rect x="109.68" y="415.50" width="3.20" height="11.30" fill="url(#gD)"/>
<rect x="115.82" y="388.40" width="5.40" height="38.40" fill="#fcdcd4"/>
<rect x="116.92" y="389.50" width="3.20" height="37.30" fill="url(#gD)"/>
<rect x="123.05" y="400.10" width="5.40" height="26.70" fill="#fcdcd4"/>
<rect x="124.15" y="401.20" width="3.20" height="25.60" fill="url(#gD)"/>
<rect x="130.29" y="415.60" width="5.40" height="11.20" fill="#fcdcd4"/>
<rect x="131.39" y="416.70" width="3.20" height="10.10" fill="url(#gD)"/>
<rect x="137.52" y="423.10" width="5.40" height="3.70" fill="#fcdcd4"/>
<rect x="138.62" y="424.20" width="3.20" height="2.60" fill="url(#gD)"/>
<rect x="144.76" y="421.40" width="5.40" height="5.40" fill="#fcdcd4"/>
<rect x="145.86" y="422.50" width="3.20" height="4.30" fill="url(#gD)"/>
<rect x="151.99" y="421.70" width="5.40" height="5.10" fill="#fcdcd4"/>
<rect x="153.09" y="422.80" width="3.20" height="4.00" fill="url(#gD)"/>
<rect x="159.23" y="400.90" width="5.40" height="25.90" fill="#fcdcd4"/>
<rect x="160.33" y="402.00" width="3.20" height="24.80" fill="url(#gD)"/>
<rect x="167.56" y="426.30" width="3.20" height="0.50" fill="url(#gD)"/>
<line x1="48.00" y1="426.80" x2="48.00" y2="429.80" stroke="#d0d0d4" stroke-width="1"/>
<line x1="55.23" y1="426.80" x2="55.23" y2="429.80" stroke="#d0d0d4" stroke-width="1"/>
<line x1="62.47" y1="426.80" x2="62.47" y2="429.80" stroke="#d0d0d4" stroke-width="1"/>
<line x1="69.70" y1="426.80" x2="69.70" y2="429.80" stroke="#d0d0d4" stroke-width="1"/>
<line x1="76.94" y1="426.80" x2="76.94" y2="429.80" stroke="#d0d0d4" stroke-width="1"/>
<line x1="84.18" y1="426.80" x2="84.18" y2="429.80" stroke="#d0d0d4" stroke-width="1"/>
<line x1="91.41" y1="426.80" x2="91.41" y2="429.80" stroke="#d0d0d4" stroke-width="1"/>
<line x1="98.65" y1="426.80" x2="98.65" y2="429.80" stroke="#d0d0d4" stroke-width="1"/>
<line x1="105.88" y1="426.80" x2="105.88" y2="429.80" stroke="#d0d0d4" stroke-width="1"/>
<line x1="113.12" y1="426.80" x2="113.12" y2="429.80" stroke="#d0d0d4" stroke-width="1"/>
<line x1="120.35" y1="426.80" x2="120.35" y2="429.80" stroke="#d0d0d4" stroke-width="1"/>
<line x1="127.59" y1="426.80" x2="127.59" y2="429.80" stroke="#d0d0d4" stroke-width="1"/>
<line x1="134.82" y1="426.80" x2="134.82" y2="429.80" stroke="#d0d0d4" stroke-width="1"/>
<line x1="142.06" y1="426.80" x2="142.06" y2="429.80" stroke="#d0d0d4" stroke-width="1"/>
<line x1="149.29" y1="426.80" x2="149.29" y2="429.80" stroke="#d0d0d4" stroke-width="1"/>
<line x1="156.53" y1="426.80" x2="156.53" y2="429.80" stroke="#d0d0d4" stroke-width="1"/>
<line x1="163.76" y1="426.80" x2="163.76" y2="429.80" stroke="#d0d0d4" stroke-width="1"/>
<line x1="171.00" y1="426.80" x2="171.00" y2="429.80" stroke="#d0d0d4" stroke-width="1"/>
<line x1="178.23" y1="426.80" x2="178.23" y2="429.80" stroke="#d0d0d4" stroke-width="1"/>
<line x1="185.47" y1="426.80" x2="185.47" y2="429.80" stroke="#d0d0d4" stroke-width="1"/>
<line x1="192.70" y1="426.80" x2="192.70" y2="429.80" stroke="#d0d0d4" stroke-width="1"/>
<line x1="199.94" y1="426.80" x2="199.94" y2="429.80" stroke="#d0d0d4" stroke-width="1"/>
<line x1="207.17" y1="426.80" x2="207.17" y2="429.80" stroke="#d0d0d4" stroke-width="1"/>
<line x1="214.41" y1="426.80" x2="214.41" y2="429.80" stroke="#d0d0d4" stroke-width="1"/>
<line x1="221.64" y1="426.80" x2="221.64" y2="429.80" stroke="#d0d0d4" stroke-width="1"/>
<text transform="translate(50.72,435.10) rotate(0.02) scale(0.84,1)" font-size="6.2" text-anchor="middle" fill="#101010" stroke="#101010" stroke-width="0.12">0</text>
<text transform="translate(57.95,435.10) rotate(0.02) scale(0.84,1)" font-size="6.2" text-anchor="middle" fill="#101010" stroke="#101010" stroke-width="0.12">1</text>
<text transform="translate(65.19,435.10) rotate(0.02) scale(0.84,1)" font-size="6.2" text-anchor="middle" fill="#101010" stroke="#101010" stroke-width="0.12">2</text>
<text transform="translate(72.42,435.10) rotate(0.02) scale(0.84,1)" font-size="6.2" text-anchor="middle" fill="#101010" stroke="#101010" stroke-width="0.12">3</text>
<text transform="translate(79.66,435.10) rotate(0.02) scale(0.84,1)" font-size="6.2" text-anchor="middle" fill="#101010" stroke="#101010" stroke-width="0.12">4</text>
<text transform="translate(86.89,435.10) rotate(0.02) scale(0.84,1)" font-size="6.2" text-anchor="middle" fill="#101010" stroke="#101010" stroke-width="0.12">5</text>
<text transform="translate(94.13,435.10) rotate(0.02) scale(0.84,1)" font-size="6.2" text-anchor="middle" fill="#101010" stroke="#101010" stroke-width="0.12">6</text>
<text transform="translate(101.36,435.10) rotate(0.02) scale(0.84,1)" font-size="6.2" text-anchor="middle" fill="#101010" stroke="#101010" stroke-width="0.12">7</text>
<text transform="translate(108.60,435.10) rotate(0.02) scale(0.84,1)" font-size="6.2" text-anchor="middle" fill="#101010" stroke="#101010" stroke-width="0.12">8</text>
<text transform="translate(115.83,435.10) rotate(0.02) scale(0.84,1)" font-size="6.2" text-anchor="middle" fill="#101010" stroke="#101010" stroke-width="0.12">9</text>
<text transform="translate(123.07,435.10) rotate(0.02) scale(0.84,1)" font-size="6.2" text-anchor="middle" fill="#101010" stroke="#101010" stroke-width="0.12">10</text>
<text transform="translate(130.30,435.10) rotate(0.02) scale(0.84,1)" font-size="6.2" text-anchor="middle" fill="#101010" stroke="#101010" stroke-width="0.12">11</text>
<text transform="translate(137.54,435.10) rotate(0.02) scale(0.84,1)" font-size="6.2" text-anchor="middle" fill="#101010" stroke="#101010" stroke-width="0.12">12</text>
<text transform="translate(144.77,435.10) rotate(0.02) scale(0.84,1)" font-size="6.2" text-anchor="middle" fill="#101010" stroke="#101010" stroke-width="0.12">13</text>
<text transform="translate(152.01,435.10) rotate(0.02) scale(0.84,1)" font-size="6.2" text-anchor="middle" fill="#101010" stroke="#101010" stroke-width="0.12">14</text>
<text transform="translate(159.24,435.10) rotate(0.02) scale(0.84,1)" font-size="6.2" text-anchor="middle" fill="#101010" stroke="#101010" stroke-width="0.12">15</text>
<text transform="translate(166.48,435.10) rotate(0.02) scale(0.84,1)" font-size="6.2" text-anchor="middle" fill="#101010" stroke="#101010" stroke-width="0.12">16</text>
<text transform="translate(173.71,435.10) rotate(0.02) scale(0.84,1)" font-size="6.2" text-anchor="middle" fill="#101010" stroke="#101010" stroke-width="0.12">17</text>
<text transform="translate(180.95,435.10) rotate(0.02) scale(0.84,1)" font-size="6.2" text-anchor="middle" fill="#101010" stroke="#101010" stroke-width="0.12">18</text>
<text transform="translate(188.18,435.10) rotate(0.02) scale(0.84,1)" font-size="6.2" text-anchor="middle" fill="#101010" stroke="#101010" stroke-width="0.12">19</text>
<text transform="translate(195.42,435.10) rotate(0.02) scale(0.84,1)" font-size="6.2" text-anchor="middle" fill="#101010" stroke="#101010" stroke-width="0.12">20</text>
<text transform="translate(202.65,435.10) rotate(0.02) scale(0.84,1)" font-size="6.2" text-anchor="middle" fill="#101010" stroke="#101010" stroke-width="0.12">21</text>
<text transform="translate(209.89,435.10) rotate(0.02) scale(0.84,1)" font-size="6.2" text-anchor="middle" fill="#101010" stroke="#101010" stroke-width="0.12">22</text>
<text transform="translate(217.12,435.10) rotate(0.02) scale(0.84,1)" font-size="6.2" text-anchor="middle" fill="#101010" stroke="#101010" stroke-width="0.12">23</text>
<text transform="translate(253.70,309.10) rotate(0.02) scale(0.955,1)" font-size="8.4" text-anchor="start" fill="#101010" stroke="#101010" stroke-width="0.12">Profits and losses by weekdays</text>
<line x1="250.20" y1="314.50" x2="412.50" y2="314.50" stroke="#bebec2" stroke-width="1.15"/>
<line x1="250.20" y1="328.54" x2="412.50" y2="328.54" stroke="#bebec2" stroke-width="1.15"/>
<line x1="250.20" y1="342.57" x2="412.50" y2="342.57" stroke="#bebec2" stroke-width="1.15"/>
<line x1="250.20" y1="356.61" x2="412.50" y2="356.61" stroke="#bebec2" stroke-width="1.15"/>
<line x1="250.20" y1="370.65" x2="412.50" y2="370.65" stroke="#bebec2" stroke-width="1.15"/>
<line x1="250.20" y1="384.69" x2="412.50" y2="384.69" stroke="#bebec2" stroke-width="1.15"/>
<line x1="250.20" y1="398.73" x2="412.50" y2="398.73" stroke="#bebec2" stroke-width="1.15"/>
<line x1="250.20" y1="412.76" x2="412.50" y2="412.76" stroke="#bebec2" stroke-width="1.15"/>
<line x1="250.20" y1="426.80" x2="412.50" y2="426.80" stroke="#bebec2" stroke-width="1.15"/>
<line x1="254.50" y1="314.50" x2="254.50" y2="429.80" stroke="#d0d0d4" stroke-width="1"/>
<text transform="translate(245.80,315.55) rotate(0.02) scale(0.84,1)" font-size="6.2" text-anchor="end" fill="#101010" stroke="#101010" stroke-width="0.12">159000</text>
<text transform="translate(245.80,343.62) rotate(0.02) scale(0.84,1)" font-size="6.2" text-anchor="end" fill="#101010" stroke="#101010" stroke-width="0.12">119250</text>
<text transform="translate(245.80,371.70) rotate(0.02) scale(0.84,1)" font-size="6.2" text-anchor="end" fill="#101010" stroke="#101010" stroke-width="0.12">79500</text>
<text transform="translate(245.80,399.78) rotate(0.02) scale(0.84,1)" font-size="6.2" text-anchor="end" fill="#101010" stroke="#101010" stroke-width="0.12">39750</text>
<text transform="translate(245.80,427.85) rotate(0.02) scale(0.84,1)" font-size="6.2" text-anchor="end" fill="#101010" stroke="#101010" stroke-width="0.12">0</text>
<rect x="281.20" y="355.10" width="7.55" height="71.70" fill="#dce4f8"/>
<rect x="282.30" y="356.20" width="5.35" height="70.60" fill="url(#gB)"/>
<rect x="303.60" y="351.10" width="7.55" height="75.70" fill="#dce4f8"/>
<rect x="304.70" y="352.20" width="5.35" height="74.60" fill="url(#gB)"/>
<rect x="326.00" y="313.40" width="7.55" height="113.40" fill="#dce4f8"/>
<rect x="327.10" y="314.50" width="5.35" height="112.30" fill="url(#gB)"/>
<rect x="348.40" y="344.70" width="7.55" height="82.10" fill="#dce4f8"/>
<rect x="349.50" y="345.80" width="5.35" height="81.00" fill="url(#gB)"/>
<rect x="370.80" y="356.10" width="7.55" height="70.70" fill="#dce4f8"/>
<rect x="371.90" y="357.20" width="5.35" height="69.60" fill="url(#gB)"/>
<rect x="286.85" y="381.90" width="7.55" height="44.90" fill="#fcdcd4"/>
<rect x="287.95" y="383.00" width="5.35" height="43.80" fill="url(#gD)"/>
<rect x="309.25" y="386.10" width="7.55" height="40.70" fill="#fcdcd4"/>
<rect x="310.35" y="387.20" width="5.35" height="39.60" fill="url(#gD)"/>
<rect x="331.65" y="377.70" width="7.55" height="49.10" fill="#fcdcd4"/>
<rect x="332.75" y="378.80" width="5.35" height="48.00" fill="url(#gD)"/>
<rect x="354.05" y="383.10" width="7.55" height="43.70" fill="#fcdcd4"/>
<rect x="355.15" y="384.20" width="5.35" height="42.60" fill="url(#gD)"/>
<rect x="376.45" y="385.60" width="7.55" height="41.20" fill="#fcdcd4"/>
<rect x="377.55" y="386.70" width="5.35" height="40.10" fill="url(#gD)"/>
<line x1="254.50" y1="426.80" x2="254.50" y2="429.80" stroke="#d0d0d4" stroke-width="1"/>
<line x1="276.90" y1="426.80" x2="276.90" y2="429.80" stroke="#d0d0d4" stroke-width="1"/>
<line x1="299.30" y1="426.80" x2="299.30" y2="429.80" stroke="#d0d0d4" stroke-width="1"/>
<line x1="321.70" y1="426.80" x2="321.70" y2="429.80" stroke="#d0d0d4" stroke-width="1"/>
<line x1="344.10" y1="426.80" x2="344.10" y2="429.80" stroke="#d0d0d4" stroke-width="1"/>
<line x1="366.50" y1="426.80" x2="366.50" y2="429.80" stroke="#d0d0d4" stroke-width="1"/>
<line x1="388.90" y1="426.80" x2="388.90" y2="429.80" stroke="#d0d0d4" stroke-width="1"/>
<line x1="411.30" y1="426.80" x2="411.30" y2="429.80" stroke="#d0d0d4" stroke-width="1"/>
<text transform="translate(265.40,435.10) rotate(0.02) scale(0.84,1)" font-size="6.2" text-anchor="middle" fill="#101010" stroke="#101010" stroke-width="0.12">Sun</text>
<text transform="translate(288.00,435.10) rotate(0.02) scale(0.84,1)" font-size="6.2" text-anchor="middle" fill="#101010" stroke="#101010" stroke-width="0.12">Mon</text>
<text transform="translate(310.40,435.10) rotate(0.02) scale(0.84,1)" font-size="6.2" text-anchor="middle" fill="#101010" stroke="#101010" stroke-width="0.12">Tue</text>
<text transform="translate(333.50,435.10) rotate(0.02) scale(0.84,1)" font-size="6.2" text-anchor="middle" fill="#101010" stroke="#101010" stroke-width="0.12">Wed</text>
<text transform="translate(354.60,435.10) rotate(0.02) scale(0.84,1)" font-size="6.2" text-anchor="middle" fill="#101010" stroke="#101010" stroke-width="0.12">Thu</text>
<text transform="translate(376.10,435.10) rotate(0.02) scale(0.84,1)" font-size="6.2" text-anchor="middle" fill="#101010" stroke="#101010" stroke-width="0.12">Fri</text>
<text transform="translate(398.80,435.10) rotate(0.02) scale(0.84,1)" font-size="6.2" text-anchor="middle" fill="#101010" stroke="#101010" stroke-width="0.12">Sat</text>
<text transform="translate(460.90,309.10) rotate(0.02) scale(0.955,1)" font-size="8.4" text-anchor="start" fill="#101010" stroke="#101010" stroke-width="0.12">Profits and losses by months</text>
<line x1="457.40" y1="314.50" x2="627.50" y2="314.50" stroke="#bebec2" stroke-width="1.15"/>
<line x1="457.40" y1="328.54" x2="627.50" y2="328.54" stroke="#bebec2" stroke-width="1.15"/>
<line x1="457.40" y1="342.57" x2="627.50" y2="342.57" stroke="#bebec2" stroke-width="1.15"/>
<line x1="457.40" y1="356.61" x2="627.50" y2="356.61" stroke="#bebec2" stroke-width="1.15"/>
<line x1="457.40" y1="370.65" x2="627.50" y2="370.65" stroke="#bebec2" stroke-width="1.15"/>
<line x1="457.40" y1="384.69" x2="627.50" y2="384.69" stroke="#bebec2" stroke-width="1.15"/>
<line x1="457.40" y1="398.73" x2="627.50" y2="398.73" stroke="#bebec2" stroke-width="1.15"/>
<line x1="457.40" y1="412.76" x2="627.50" y2="412.76" stroke="#bebec2" stroke-width="1.15"/>
<line x1="457.40" y1="426.80" x2="627.50" y2="426.80" stroke="#bebec2" stroke-width="1.15"/>
<line x1="461.70" y1="314.50" x2="461.70" y2="429.80" stroke="#d0d0d4" stroke-width="1"/>
<text transform="translate(453.00,315.55) rotate(0.02) scale(0.84,1)" font-size="6.2" text-anchor="end" fill="#101010" stroke="#101010" stroke-width="0.12">142000</text>
<text transform="translate(453.00,329.59) rotate(0.02) scale(0.84,1)" font-size="6.2" text-anchor="end" fill="#101010" stroke="#101010" stroke-width="0.12">124250</text>
<text transform="translate(453.00,343.62) rotate(0.02) scale(0.84,1)" font-size="6.2" text-anchor="end" fill="#101010" stroke="#101010" stroke-width="0.12">106500</text>
<text transform="translate(453.00,357.66) rotate(0.02) scale(0.84,1)" font-size="6.2" text-anchor="end" fill="#101010" stroke="#101010" stroke-width="0.12">88750</text>
<text transform="translate(453.00,371.70) rotate(0.02) scale(0.84,1)" font-size="6.2" text-anchor="end" fill="#101010" stroke="#101010" stroke-width="0.12">71000</text>
<text transform="translate(453.00,385.74) rotate(0.02) scale(0.84,1)" font-size="6.2" text-anchor="end" fill="#101010" stroke="#101010" stroke-width="0.12">53250</text>
<text transform="translate(453.00,399.78) rotate(0.02) scale(0.84,1)" font-size="6.2" text-anchor="end" fill="#101010" stroke="#101010" stroke-width="0.12">35500</text>
<text transform="translate(453.00,413.81) rotate(0.02) scale(0.84,1)" font-size="6.2" text-anchor="end" fill="#101010" stroke="#101010" stroke-width="0.12">17750</text>
<text transform="translate(453.00,427.85) rotate(0.02) scale(0.84,1)" font-size="6.2" text-anchor="end" fill="#101010" stroke="#101010" stroke-width="0.12">0</text>
<rect x="463.88" y="342.70" width="5.45" height="84.10" fill="#dce4f8"/>
<rect x="464.98" y="343.80" width="3.25" height="83.00" fill="url(#gB)"/>
<rect x="477.62" y="364.70" width="5.45" height="62.10" fill="#dce4f8"/>
<rect x="478.73" y="365.80" width="3.25" height="61.00" fill="url(#gB)"/>
<rect x="491.38" y="344.70" width="5.45" height="82.10" fill="#dce4f8"/>
<rect x="492.48" y="345.80" width="3.25" height="81.00" fill="url(#gB)"/>
<rect x="505.12" y="313.40" width="5.45" height="113.40" fill="#dce4f8"/>
<rect x="506.23" y="314.50" width="3.25" height="112.30" fill="url(#gB)"/>
<rect x="519.98" y="426.00" width="3.25" height="0.80" fill="url(#gB)"/>
<rect x="533.73" y="425.80" width="3.25" height="1.00" fill="url(#gB)"/>
<rect x="546.38" y="423.40" width="5.45" height="3.40" fill="#dce4f8"/>
<rect x="547.48" y="424.50" width="3.25" height="2.30" fill="url(#gB)"/>
<rect x="560.12" y="419.70" width="5.45" height="7.10" fill="#dce4f8"/>
<rect x="561.23" y="420.80" width="3.25" height="6.00" fill="url(#gB)"/>
<rect x="573.88" y="412.60" width="5.45" height="14.20" fill="#dce4f8"/>
<rect x="574.98" y="413.70" width="3.25" height="13.10" fill="url(#gB)"/>
<rect x="587.62" y="409.40" width="5.45" height="17.40" fill="#dce4f8"/>
<rect x="588.73" y="410.50" width="3.25" height="16.30" fill="url(#gB)"/>
<rect x="601.38" y="388.90" width="5.45" height="37.90" fill="#dce4f8"/>
<rect x="602.48" y="390.00" width="3.25" height="36.80" fill="url(#gB)"/>
<rect x="615.12" y="383.90" width="5.45" height="42.90" fill="#dce4f8"/>
<rect x="616.23" y="385.00" width="3.25" height="41.80" fill="url(#gB)"/>
<rect x="467.42" y="398.90" width="5.45" height="27.90" fill="#fcdcd4"/>
<rect x="468.52" y="400.00" width="3.25" height="26.80" fill="url(#gD)"/>
<rect x="481.17" y="383.90" width="5.45" height="42.90" fill="#fcdcd4"/>
<rect x="482.27" y="385.00" width="3.25" height="41.80" fill="url(#gD)"/>
<rect x="494.92" y="384.90" width="5.45" height="41.90" fill="#fcdcd4"/>
<rect x="496.02" y="386.00" width="3.25" height="40.80" fill="url(#gD)"/>
<rect x="508.67" y="343.90" width="5.45" height="82.90" fill="#fcdcd4"/>
<rect x="509.77" y="345.00" width="3.25" height="81.80" fill="url(#gD)"/>
<rect x="523.52" y="426.20" width="3.25" height="0.60" fill="url(#gD)"/>
<rect x="537.27" y="426.30" width="3.25" height="0.50" fill="url(#gD)"/>
<rect x="551.02" y="425.80" width="3.25" height="1.00" fill="url(#gD)"/>
<rect x="564.77" y="425.00" width="3.25" height="1.80" fill="url(#gD)"/>
<rect x="577.42" y="423.10" width="5.45" height="3.70" fill="#fcdcd4"/>
<rect x="578.52" y="424.20" width="3.25" height="2.60" fill="url(#gD)"/>
<rect x="591.17" y="418.90" width="5.45" height="7.90" fill="#fcdcd4"/>
<rect x="592.27" y="420.00" width="3.25" height="6.80" fill="url(#gD)"/>
<rect x="604.92" y="417.20" width="5.45" height="9.60" fill="#fcdcd4"/>
<rect x="606.02" y="418.30" width="3.25" height="8.50" fill="url(#gD)"/>
<rect x="618.67" y="400.60" width="5.45" height="26.20" fill="#fcdcd4"/>
<rect x="619.77" y="401.70" width="3.25" height="25.10" fill="url(#gD)"/>
<line x1="461.70" y1="426.80" x2="461.70" y2="429.80" stroke="#d0d0d4" stroke-width="1"/>
<line x1="475.45" y1="426.80" x2="475.45" y2="429.80" stroke="#d0d0d4" stroke-width="1"/>
<line x1="489.20" y1="426.80" x2="489.20" y2="429.80" stroke="#d0d0d4" stroke-width="1"/>
<line x1="502.95" y1="426.80" x2="502.95" y2="429.80" stroke="#d0d0d4" stroke-width="1"/>
<line x1="516.70" y1="426.80" x2="516.70" y2="429.80" stroke="#d0d0d4" stroke-width="1"/>
<line x1="530.45" y1="426.80" x2="530.45" y2="429.80" stroke="#d0d0d4" stroke-width="1"/>
<line x1="544.20" y1="426.80" x2="544.20" y2="429.80" stroke="#d0d0d4" stroke-width="1"/>
<line x1="557.95" y1="426.80" x2="557.95" y2="429.80" stroke="#d0d0d4" stroke-width="1"/>
<line x1="571.70" y1="426.80" x2="571.70" y2="429.80" stroke="#d0d0d4" stroke-width="1"/>
<line x1="585.45" y1="426.80" x2="585.45" y2="429.80" stroke="#d0d0d4" stroke-width="1"/>
<line x1="599.20" y1="426.80" x2="599.20" y2="429.80" stroke="#d0d0d4" stroke-width="1"/>
<line x1="612.95" y1="426.80" x2="612.95" y2="429.80" stroke="#d0d0d4" stroke-width="1"/>
<line x1="626.70" y1="426.80" x2="626.70" y2="429.80" stroke="#d0d0d4" stroke-width="1"/>
<text transform="translate(470.38,435.10) rotate(0.02) scale(0.84,1)" font-size="6.2" text-anchor="middle" fill="#101010" stroke="#101010" stroke-width="0.12">Jan</text>
<text transform="translate(484.12,435.10) rotate(0.02) scale(0.84,1)" font-size="6.2" text-anchor="middle" fill="#101010" stroke="#101010" stroke-width="0.12">Feb</text>
<text transform="translate(497.88,435.10) rotate(0.02) scale(0.84,1)" font-size="6.2" text-anchor="middle" fill="#101010" stroke="#101010" stroke-width="0.12">Mar</text>
<text transform="translate(511.62,435.10) rotate(0.02) scale(0.84,1)" font-size="6.2" text-anchor="middle" fill="#101010" stroke="#101010" stroke-width="0.12">Apr</text>
<text transform="translate(525.38,435.10) rotate(0.02) scale(0.84,1)" font-size="6.2" text-anchor="middle" fill="#101010" stroke="#101010" stroke-width="0.12">May</text>
<text transform="translate(539.12,435.10) rotate(0.02) scale(0.84,1)" font-size="6.2" text-anchor="middle" fill="#101010" stroke="#101010" stroke-width="0.12">Jun</text>
<text transform="translate(552.88,435.10) rotate(0.02) scale(0.84,1)" font-size="6.2" text-anchor="middle" fill="#101010" stroke="#101010" stroke-width="0.12">Jul</text>
<text transform="translate(566.62,435.10) rotate(0.02) scale(0.84,1)" font-size="6.2" text-anchor="middle" fill="#101010" stroke="#101010" stroke-width="0.12">Aug</text>
<text transform="translate(580.38,435.10) rotate(0.02) scale(0.84,1)" font-size="6.2" text-anchor="middle" fill="#101010" stroke="#101010" stroke-width="0.12">Sep</text>
<text transform="translate(594.12,435.10) rotate(0.02) scale(0.84,1)" font-size="6.2" text-anchor="middle" fill="#101010" stroke="#101010" stroke-width="0.12">Oct</text>
<text transform="translate(607.88,435.10) rotate(0.02) scale(0.84,1)" font-size="6.2" text-anchor="middle" fill="#101010" stroke="#101010" stroke-width="0.12">Nov</text>
<text transform="translate(621.62,435.10) rotate(0.02) scale(0.84,1)" font-size="6.2" text-anchor="middle" fill="#101010" stroke="#101010" stroke-width="0.12">Dec</text>
</g>
</svg>
</body></html>
